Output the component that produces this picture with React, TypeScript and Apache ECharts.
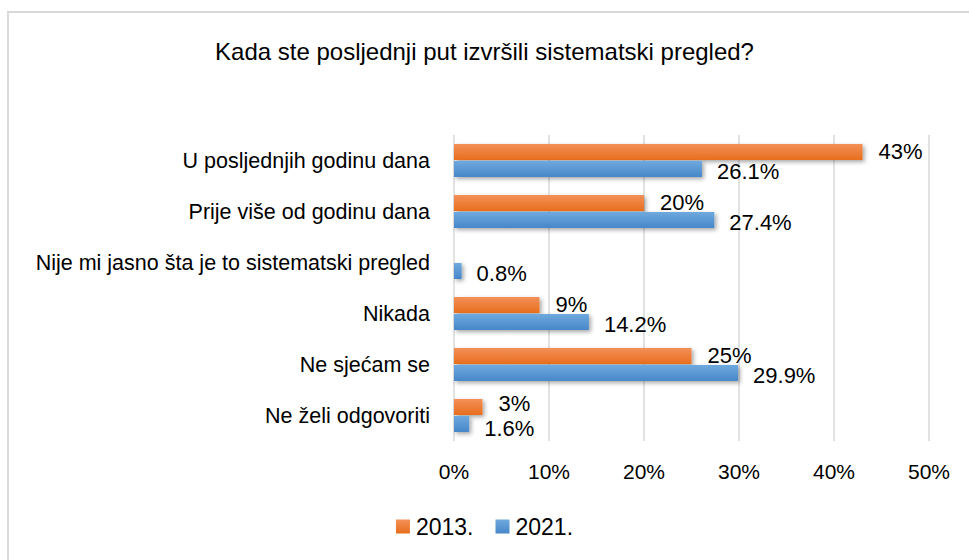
import React, { useEffect, useRef } from "react";
import * as echarts from "echarts";

const categories = [
  "U posljednjih godinu dana",
  "Prije više od godinu dana",
  "Nije mi jasno šta je to sistematski pregled",
  "Nikada",
  "Ne sjećam se",
  "Ne želi odgovoriti",
];
const values2013: (number | null)[] = [43, 20, null, 9, 25, 3];
const values2021: number[] = [26.1, 27.4, 0.8, 14.2, 29.9, 1.6];
const xTicks = [0, 10, 20, 30, 40, 50];
const seriesNames = ["2013.", "2021."];
const titleText = "Kada ste posljednji put izvršili sistematski pregled?";

const FONT = "'Liberation Sans', Arial, sans-serif";

export default function App() {
  const ref = useRef<HTMLDivElement>(null);
  useEffect(() => {
    if (!ref.current) return;
    const chart = echarts.init(ref.current, undefined, { renderer: "svg" });
    const orange = new echarts.graphic.LinearGradient(0, 0, 0, 1, [
      { offset: 0, color: "#F39058" },
      { offset: 1, color: "#E86E1D" },
    ]);
    const blue = new echarts.graphic.LinearGradient(0, 0, 0, 1, [
      { offset: 0, color: "#6FA9DE" },
      { offset: 1, color: "#4787C9" },
    ]);
    const shadow = {
      shadowColor: "rgba(0,0,0,0.35)",
      shadowBlur: 4,
      shadowOffsetX: 2,
      shadowOffsetY: 2,
    };
    const last = categories.length - 1;
    const data2013 = values2013.map((v, i) =>
      i === last ? { value: v, label: { offset: [0, -4] } } : v
    );
    const data2021 = values2021.map((v, i) =>
      i === last ? { value: v, label: { offset: [0, 5] } } : v
    );
    chart.setOption({
      animation: false,
      textStyle: { fontFamily: FONT },
      color: ["#ED7D31", "#5B9BD5"],
      title: {
        text: titleText,
        left: "center",
        top: 34,
        textStyle: { fontFamily: FONT, fontSize: 24, fontWeight: "normal", color: "#000" },
      },
      graphic: [
        {
          type: "rect",
          shape: { x: 8, y: 12, width: 1000, height: 600 },
          style: { fill: "none", stroke: "#D9D9D9", lineWidth: 2 },
          silent: true,
        },
      ],
      legend: {
        bottom: 17,
        left: "center",
        icon: "rect",
        itemWidth: 14,
        itemHeight: 14,
        itemGap: 22,
        data: seriesNames,
        textStyle: { fontFamily: FONT, fontSize: 23, color: "#000", padding: [0, 0, 0, 1] },
      },
      grid: { left: 454, right: 40, top: 135, bottom: 119, containLabel: false },
      xAxis: {
        type: "value",
        min: xTicks[0],
        max: xTicks[xTicks.length - 1],
        interval: 10,
        axisLine: { show: false },
        axisTick: { show: false },
        splitLine: { lineStyle: { color: "#D9D9D9", width: 1.5 } },
        axisLabel: {
          formatter: (v: number) => v + "%",
          fontFamily: FONT,
          fontSize: 21,
          color: "#000",
          margin: 20,
        },
      },
      yAxis: {
        type: "category",
        inverse: true,
        data: categories,
        axisLine: { show: false },
        axisTick: { show: false },
        axisLabel: { fontFamily: FONT, fontSize: 21.5, color: "#000", margin: 24 },
      },
      series: [
        {
          name: seriesNames[0],
          type: "bar",
          data: data2013,
          barWidth: 16,
          barGap: "6%",
          itemStyle: { color: orange, ...shadow },
          label: {
            show: true,
            position: "right",
            distance: 16,
            offset: [0, -1],
            fontFamily: FONT,
            fontSize: 22,
            color: "#000",
            formatter: (p: any) => (p.value == null ? "" : p.value + "%"),
          },
        },
        {
          name: seriesNames[1],
          type: "bar",
          data: data2021,
          barWidth: 16,
          barGap: "6%",
          itemStyle: { color: blue, ...shadow },
          label: {
            show: true,
            position: "right",
            distance: 15,
            offset: [0, 3],
            fontFamily: FONT,
            fontSize: 22,
            color: "#000",
            formatter: (p: any) => Number(p.value).toFixed(1) + "%",
          },
        },
      ],
    });
    return () => chart.dispose();
  }, []);
  return (
    <div
      ref={ref}
      style={{ position: "fixed", left: 0, top: 0, width: 969, height: 560, background: "#fff" }}
    />
  );
}
